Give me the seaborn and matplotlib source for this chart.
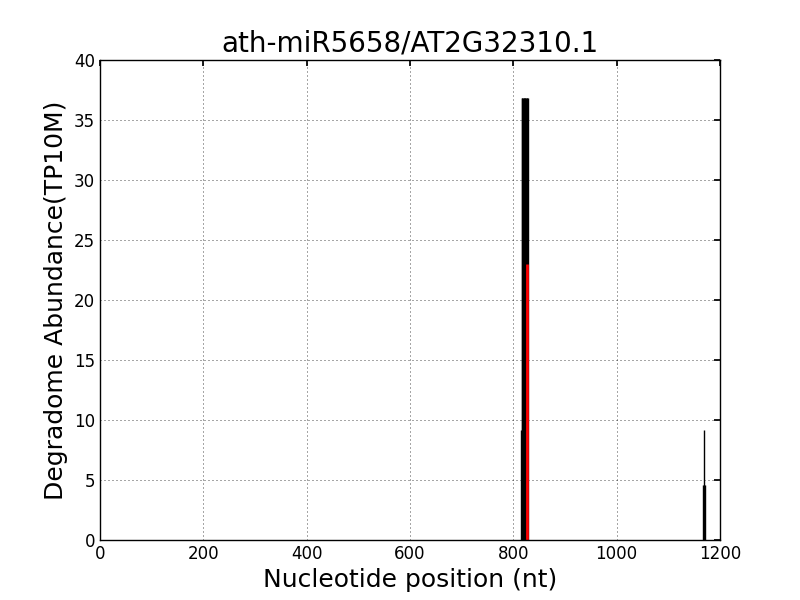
import matplotlib
matplotlib.use("Agg")
import matplotlib.pyplot as plt
import seaborn as sns
import numpy as np

title = "ath-miR5658/AT2G32310.1"
# black reads (position nt, abundance TP10M)
black_pos = [814, 816, 817, 818, 820, 821, 822, 823, 825, 826, 827, 828, 1168, 1169, 1170]
black_val = [9.2, 36.8, 36.8, 36.8, 36.8, 36.8, 36.8, 36.8, 36.8, 36.8, 36.8, 36.8, 4.6, 4.6, 4.6]
thin_pos = [1169]
thin_val = [9.2]
# target site
red_pos = [826]
red_val = [23.0]

sns.set_theme(style="white")
plt.rcParams.update({
    "font.family": ["DejaVu Sans"],
    "xtick.direction": "in", "ytick.direction": "in",
    "xtick.top": True, "ytick.right": True,
    "xtick.major.size": 4, "ytick.major.size": 4,
    "xtick.color": "black", "ytick.color": "black",
    "axes.edgecolor": "black", "axes.linewidth": 1.0,
})

fig = plt.figure(figsize=(8, 6), dpi=100)
ax = fig.add_axes([0.125, 0.1, 0.775, 0.8])

ax.vlines(black_pos, 0, black_val, colors="black", linewidth=1.0)
ax.vlines(thin_pos, 0, thin_val, colors="black", linewidth=1.0)
ax.vlines(red_pos, 0, red_val, colors="red", linewidth=2.0)

ax.set_xlim(0, 1200)
ax.set_ylim(0, 40)
ax.set_xticks(np.arange(0, 1201, 200))
ax.set_yticks(np.arange(0, 41, 5))
ax.tick_params(labelsize=12, colors="black")
ax.grid(True, color="black", linewidth=0.5, linestyle=(0, (1.44, 4.32)))
ax.set_axisbelow(True)
ax.set_title(title, fontsize=20, color="black")
ax.set_xlabel("Nucleotide position (nt)", fontsize=18, color="black")
ax.set_ylabel("Degradome Abundance(TP10M)", fontsize=18, color="black")

fig.savefig("out.png", dpi=100, facecolor="white")
